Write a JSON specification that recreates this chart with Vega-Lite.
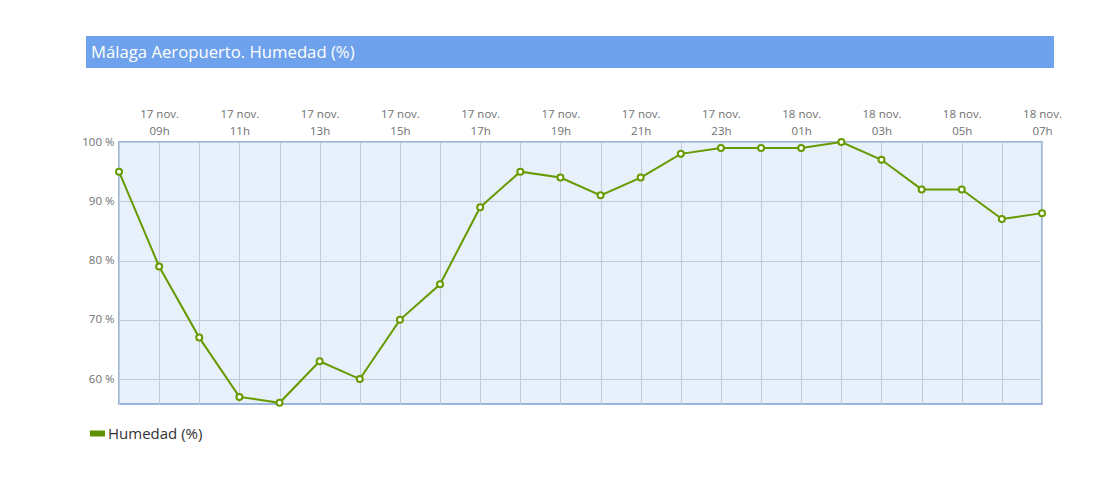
{
  "$schema": "https://vega.github.io/schema/vega-lite/v6.json",
  "background": "white",
  "padding": {"left": 80, "top": 36, "right": 0, "bottom": 0},
  "spacing": 39,
  "config": {
    "font": "Open Sans",
    "axis": {"labelFont": "Open Sans"},
    "legend": {"labelFont": "Open Sans"}
  },
  "vconcat": [
    {
      "width": 968,
      "height": 32,
      "view": {"fill": "#6fa2ec", "stroke": null},
      "data": {"values": [{"titulo": "Málaga Aeropuerto. Humedad (%)"}]},
      "mark": {"type": "rect", "color": "#6fa2ec"},
      "title": {
        "text": "Málaga Aeropuerto. Humedad (%)",
        "anchor": "start",
        "frame": "group",
        "offset": -39,
        "baseline": "alphabetic",
        "dx": 5,
        "color": "white",
        "fontSize": 16.7,
        "font": "Open Sans",
        "fontWeight": "normal"
      }
    },
    {
      "spacing": -7,
      "hconcat": [
        {
          "width": 1,
          "height": 262,
          "view": {"stroke": null},
          "data": {"values": []},
          "mark": "point"
        },
        {
          "width": 923,
          "height": 262,
          "view": {"fill": "#e8f0fb", "stroke": "#9ab5e0", "strokeWidth": 2},
          "data": {
            "values": [
              {"t": "17 nov. 08h", "humedad": 95, "serie": "Humedad (%)"},
              {"t": "17 nov. 09h", "humedad": 79, "serie": "Humedad (%)"},
              {"t": "17 nov. 10h", "humedad": 67, "serie": "Humedad (%)"},
              {"t": "17 nov. 11h", "humedad": 57, "serie": "Humedad (%)"},
              {"t": "17 nov. 12h", "humedad": 56, "serie": "Humedad (%)"},
              {"t": "17 nov. 13h", "humedad": 63, "serie": "Humedad (%)"},
              {"t": "17 nov. 14h", "humedad": 60, "serie": "Humedad (%)"},
              {"t": "17 nov. 15h", "humedad": 70, "serie": "Humedad (%)"},
              {"t": "17 nov. 16h", "humedad": 76, "serie": "Humedad (%)"},
              {"t": "17 nov. 17h", "humedad": 89, "serie": "Humedad (%)"},
              {"t": "17 nov. 18h", "humedad": 95, "serie": "Humedad (%)"},
              {"t": "17 nov. 19h", "humedad": 94, "serie": "Humedad (%)"},
              {"t": "17 nov. 20h", "humedad": 91, "serie": "Humedad (%)"},
              {"t": "17 nov. 21h", "humedad": 94, "serie": "Humedad (%)"},
              {"t": "17 nov. 22h", "humedad": 98, "serie": "Humedad (%)"},
              {"t": "17 nov. 23h", "humedad": 99, "serie": "Humedad (%)"},
              {"t": "18 nov. 00h", "humedad": 99, "serie": "Humedad (%)"},
              {"t": "18 nov. 01h", "humedad": 99, "serie": "Humedad (%)"},
              {"t": "18 nov. 02h", "humedad": 100, "serie": "Humedad (%)"},
              {"t": "18 nov. 03h", "humedad": 97, "serie": "Humedad (%)"},
              {"t": "18 nov. 04h", "humedad": 92, "serie": "Humedad (%)"},
              {"t": "18 nov. 05h", "humedad": 92, "serie": "Humedad (%)"},
              {"t": "18 nov. 06h", "humedad": 87, "serie": "Humedad (%)"},
              {"t": "18 nov. 07h", "humedad": 88, "serie": "Humedad (%)"}
            ]
          },
          "encoding": {
            "x": {
              "field": "t",
              "type": "ordinal",
              "sort": null,
              "scale": {"type": "point", "padding": 0},
              "axis": {
                "orient": "top",
                "title": null,
                "labelAngle": 0,
                "grid": true,
                "gridColor": "#c2c9d6",
                "gridWidth": 1,
                "ticks": false,
                "domain": false,
                "labelColor": "#707070",
                "labelFontSize": 11.5,
                "labelPadding": 23,
                "labelLineHeight": 17,
                "labelBaseline": "bottom",
                "labelOverlap": false,
                "labelExpr": "parseInt(slice(datum.label, 8, 10)) % 2 == 1 ? [slice(datum.label, 0, 7), slice(datum.label, 8)] : ''"
              }
            },
            "y": {
              "field": "humedad",
              "type": "quantitative",
              "scale": {"domain": [55.8, 100], "nice": false, "zero": false},
              "axis": {
                "title": null,
                "values": [60, 70, 80, 90, 100],
                "grid": true,
                "gridColor": "#c2c9d6",
                "ticks": false,
                "domain": false,
                "labelColor": "#707070",
                "labelFontSize": 11.5,
                "labelPadding": 5,
                "labelExpr": "datum.value + ' %'"
              }
            }
          },
          "layer": [
            {
              "mark": {"type": "line", "strokeWidth": 2},
              "encoding": {
                "color": {
                  "field": "serie",
                  "type": "nominal",
                  "scale": {"domain": ["Humedad (%)"], "range": ["#669a00"]},
                  "legend": {
                    "title": null,
                    "orient": "none",
                    "legendX": 4,
                    "legendY": 390,
                    "symbolType": "M-1,-0.4H1V0.4H-1Z",
                    "symbolSize": 225,
                    "labelFontSize": 15,
                    "labelColor": "#333333",
                    "labelOffset": 3,
                    "encode": {
                      "symbols": {
                        "update": {
                          "fill": {"value": "#5f9000"},
                          "stroke": {"value": "#5f9000"},
                          "strokeWidth": {"value": 0}
                        }
                      }
                    }
                  }
                }
              }
            },
            {
              "mark": {
                "type": "point",
                "filled": true,
                "fill": "white",
                "stroke": "#669a00",
                "strokeWidth": 2,
                "size": 36,
                "opacity": 1
              }
            }
          ]
        }
      ]
    }
  ]
}
